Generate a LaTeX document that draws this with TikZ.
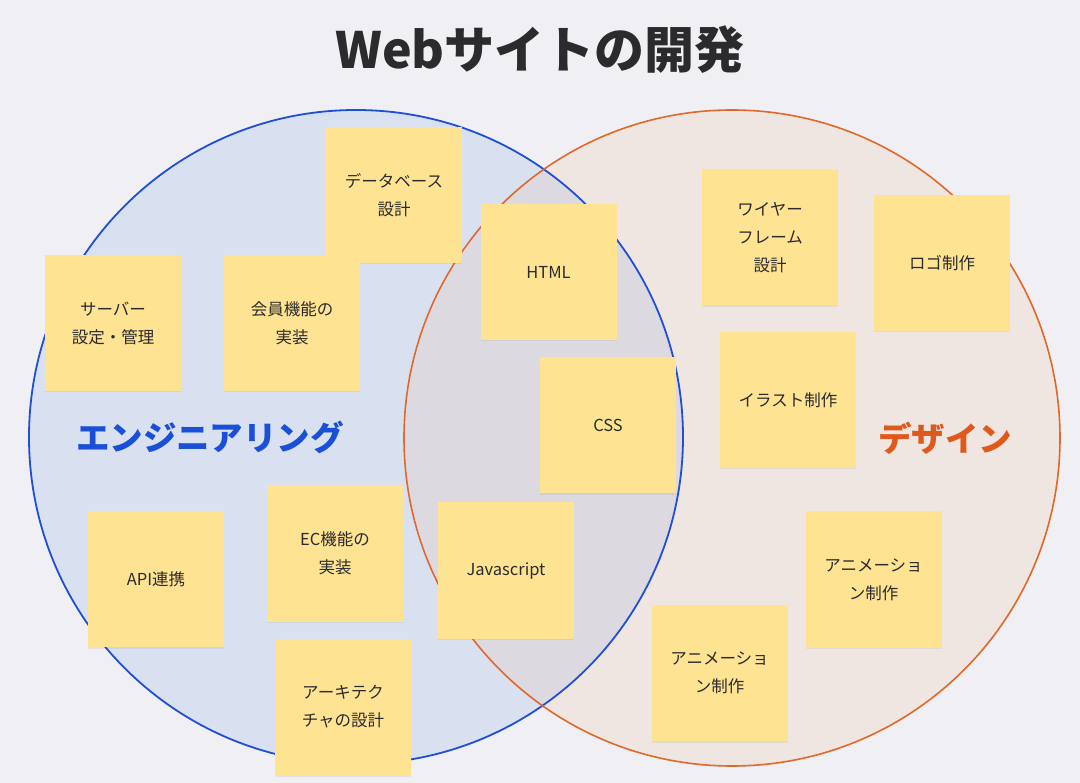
\documentclass[tikz,border=0pt]{standalone}
\usepackage{fontspec}
\newfontfamily\jp{Noto Sans CJK JP}
\usepackage{tikz}
\usetikzlibrary{shadows}
\definecolor{bgcol}{HTML}{EFEFF4}
\definecolor{engfill}{HTML}{D9E1F1}
\definecolor{desfill}{HTML}{EFE6E1}
\definecolor{bothfill}{HTML}{DDD9E0}
\definecolor{engline}{HTML}{1F4FD6}
\definecolor{desline}{HTML}{E2682A}
\definecolor{engtext}{HTML}{1A4FD8}
\definecolor{destext}{HTML}{E0591C}
\definecolor{stickycol}{HTML}{FEE392}
\definecolor{inkcol}{HTML}{2B2B2E}
\tikzset{
    sticky/.style={fill=stickycol,minimum width=136pt,minimum height=136pt,inner sep=0pt,
        align=center,text=inkcol,font={\jp\fontsize{16.5}{28}\selectfont},
        drop shadow={shadow xshift=0pt,shadow yshift=-1.5pt,fill=black,opacity=0.05}},
    setlabel/.style={font={\jp\bfseries\fontsize{33.5}{38}\selectfont}}
}

\begin{document}
\begin{tikzpicture}[line cap=round,line join=round,x=1pt,y=-1pt]
        \useasboundingbox (0,0) rectangle (1080,783);
        \fill [color=bgcol] (0,0) rectangle (1080,783);
        \coordinate (engc) at (356,437);
        \coordinate (desc) at (732,438);
        \fill [color=engfill] (engc) circle (327);
        \fill [color=desfill] (desc) circle (328);
        \begin{scope}
            \clip (engc) circle (327);
            \fill [color=bothfill] (desc) circle (328);
        \end{scope}
        \draw [color=engline,line width=1.8pt] (engc) circle (327);
        \draw [color=desline,line width=1.6pt] (desc) circle (328);
        \node [anchor=center,font={\jp\bfseries\fontsize{50}{56}\selectfont},text=inkcol] (title) at (540,50) {Webサイトの開発};
        \node [setlabel,text=engtext] (eng) at (210,437) {エンジニアリング};
        \node [setlabel,text=destext] (des) at (945,438) {デザイン};
        \node [sticky] (dbdesign) at (394,195) {データベース\\設計};
        \node [sticky] (server) at (113,323) {サーバー\\設定・管理};
        \node [sticky] (member) at (292,323) {会員機能の\\実装};
        \node [sticky] (api) at (156,579) {API連携};
        \node [sticky] (ec) at (335,553.5) {EC機能の\\実装};
        \node [sticky] (arch) at (343,707) {アーキテク\\チャの設計};
        \node [sticky] (html) at (548.5,272) {HTML};
        \node [sticky] (css) at (608,425.5) {CSS};
        \node [sticky] (js) at (506,570.5) {Javascript};
        \node [sticky] (wire) at (770,237.5) {ワイヤー\\フレーム\\設計};
        \node [sticky] (logo) at (942,263) {ロゴ制作};
        \node [sticky] (illust) at (788,400) {イラスト制作};
        \node [sticky] (animr) at (873.5,579.5) {アニメーショ\\ン制作};
        \node [sticky] (animl) at (719.5,673) {アニメーショ\\ン制作};
\end{tikzpicture}
\end{document}
